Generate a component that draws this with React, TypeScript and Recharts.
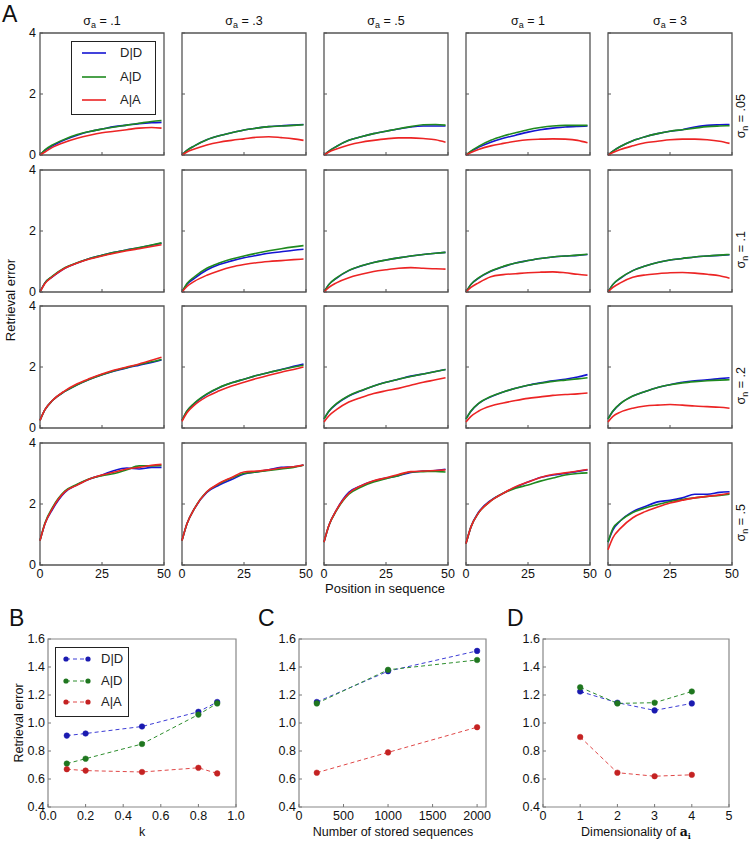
import React from 'react';
import { LineChart, Line, XAxis, YAxis, ReferenceArea, Legend } from 'recharts';

// ---------- Panel A data ----------
const positions = [0, 2, 5, 10, 15, 20, 25, 30, 35, 40, 45, 49];
const sigmaA = ['.1', '.3', '.5', '1', '3'];
const sigmaN = ['.05', '.1', '.2', '.5'];
const seriesNames = ['D|D', 'A|D', 'A|A'];
const gridColors = ['#1414d2', '#1f8a1f', '#ec2424'];
const gridXTicks = [0, 25, 50];
const gridYTicks = [0, 2, 4];

// sigma_n = .05 (one list per sigma_a column)
const dd_n05 = [
  [0, 0.15, 0.3, 0.5, 0.65, 0.77, 0.85, 0.93, 0.98, 1.03, 1.06, 1.07],
  [0, 0.15, 0.3, 0.5, 0.63, 0.73, 0.82, 0.88, 0.93, 0.96, 0.98, 1.0],
  [0, 0.13, 0.28, 0.48, 0.6, 0.7, 0.78, 0.85, 0.92, 0.95, 0.95, 0.95],
  [0, 0.12, 0.25, 0.42, 0.55, 0.65, 0.75, 0.83, 0.88, 0.92, 0.94, 0.95],
  [0, 0.13, 0.28, 0.47, 0.6, 0.7, 0.78, 0.83, 0.92, 0.97, 0.99, 1.0],
];
const ad_n05 = [
  [0, 0.17, 0.33, 0.52, 0.67, 0.77, 0.85, 0.92, 0.98, 1.04, 1.1, 1.13],
  [0, 0.15, 0.3, 0.5, 0.63, 0.73, 0.82, 0.88, 0.93, 0.95, 0.97, 0.99],
  [0, 0.13, 0.28, 0.48, 0.6, 0.7, 0.78, 0.86, 0.93, 0.99, 1.0, 0.98],
  [0, 0.13, 0.28, 0.48, 0.62, 0.73, 0.83, 0.9, 0.95, 0.97, 0.97, 0.97],
  [0, 0.13, 0.28, 0.47, 0.6, 0.7, 0.78, 0.83, 0.88, 0.93, 0.95, 0.96],
];
const aa_n05 = [
  [0, 0.1, 0.25, 0.42, 0.55, 0.65, 0.73, 0.78, 0.83, 0.88, 0.9, 0.88],
  [0, 0.1, 0.2, 0.33, 0.42, 0.48, 0.53, 0.58, 0.6, 0.57, 0.53, 0.48],
  [0, 0.1, 0.2, 0.33, 0.42, 0.48, 0.53, 0.56, 0.56, 0.54, 0.5, 0.42],
  [0, 0.08, 0.18, 0.3, 0.38, 0.45, 0.5, 0.52, 0.53, 0.52, 0.48, 0.4],
  [0, 0.08, 0.18, 0.3, 0.4, 0.45, 0.5, 0.52, 0.52, 0.5, 0.45, 0.38],
];
// sigma_n = .1
const dd_n1 = [
  [0, 0.3, 0.5, 0.78, 0.95, 1.1, 1.2, 1.3, 1.38, 1.45, 1.53, 1.6],
  [0, 0.25, 0.45, 0.72, 0.9, 1.02, 1.12, 1.2, 1.27, 1.32, 1.37, 1.4],
  [0, 0.25, 0.45, 0.7, 0.85, 0.97, 1.05, 1.12, 1.18, 1.23, 1.27, 1.3],
  [0, 0.25, 0.45, 0.68, 0.83, 0.95, 1.03, 1.1, 1.15, 1.18, 1.2, 1.23],
  [0, 0.25, 0.45, 0.7, 0.85, 0.97, 1.05, 1.1, 1.15, 1.18, 1.2, 1.22],
];
const ad_n1 = [
  [0, 0.3, 0.52, 0.8, 0.96, 1.1, 1.2, 1.3, 1.38, 1.46, 1.54, 1.61],
  [0, 0.28, 0.5, 0.78, 0.95, 1.08, 1.18, 1.27, 1.35, 1.42, 1.48, 1.52],
  [0, 0.25, 0.46, 0.71, 0.86, 0.97, 1.05, 1.12, 1.18, 1.23, 1.27, 1.3],
  [0, 0.25, 0.46, 0.69, 0.84, 0.95, 1.03, 1.1, 1.15, 1.18, 1.21, 1.24],
  [0, 0.25, 0.46, 0.7, 0.85, 0.97, 1.05, 1.1, 1.15, 1.18, 1.21, 1.23],
];
const aa_n1 = [
  [0, 0.28, 0.5, 0.78, 0.95, 1.08, 1.18, 1.27, 1.35, 1.42, 1.49, 1.55],
  [0, 0.18, 0.35, 0.55, 0.7, 0.82, 0.9, 0.96, 1.0, 1.03, 1.06, 1.08],
  [0, 0.15, 0.3, 0.47, 0.58, 0.67, 0.73, 0.78, 0.8, 0.78, 0.76, 0.75],
  [0, 0.15, 0.3, 0.5, 0.57, 0.6, 0.63, 0.65, 0.66, 0.63, 0.58, 0.55],
  [0, 0.15, 0.3, 0.48, 0.56, 0.6, 0.63, 0.64, 0.62, 0.58, 0.53, 0.45],
];
// sigma_n = .2
const dd_n2 = [
  [0.25, 0.6, 0.9, 1.2, 1.42, 1.6, 1.75, 1.87, 1.97, 2.06, 2.15, 2.23],
  [0.25, 0.55, 0.8, 1.1, 1.32, 1.48, 1.6, 1.72, 1.82, 1.92, 2.02, 2.1],
  [0.3, 0.55, 0.78, 1.05, 1.22, 1.38, 1.5, 1.6, 1.7, 1.77, 1.85, 1.92],
  [0.3, 0.55, 0.8, 1.02, 1.18, 1.3, 1.4, 1.48, 1.55, 1.6, 1.67, 1.75],
  [0.3, 0.55, 0.8, 1.05, 1.2, 1.33, 1.42, 1.5, 1.55, 1.58, 1.62, 1.65],
];
const ad_n2 = [
  [0.25, 0.6, 0.9, 1.2, 1.42, 1.6, 1.75, 1.88, 1.98, 2.08, 2.17, 2.25],
  [0.25, 0.56, 0.82, 1.12, 1.33, 1.48, 1.6, 1.72, 1.82, 1.91, 2.0, 2.06],
  [0.3, 0.56, 0.8, 1.06, 1.23, 1.38, 1.5, 1.6, 1.69, 1.77, 1.85, 1.92],
  [0.3, 0.56, 0.8, 1.03, 1.18, 1.3, 1.4, 1.47, 1.53, 1.57, 1.61, 1.65],
  [0.3, 0.56, 0.8, 1.05, 1.2, 1.33, 1.42, 1.48, 1.52, 1.55, 1.57, 1.58],
];
const aa_n2 = [
  [0.25, 0.6, 0.9, 1.22, 1.45, 1.62, 1.77, 1.9, 2.0, 2.1, 2.22, 2.32],
  [0.22, 0.5, 0.75, 1.03, 1.22, 1.38, 1.5, 1.62, 1.73, 1.83, 1.92, 2.0],
  [0.2, 0.4, 0.6, 0.85, 1.0, 1.13, 1.22, 1.3, 1.4, 1.5, 1.58, 1.65],
  [0.2, 0.38, 0.55, 0.72, 0.82, 0.9, 0.97, 1.02, 1.07, 1.1, 1.12, 1.15],
  [0.2, 0.38, 0.52, 0.65, 0.72, 0.75, 0.77, 0.75, 0.72, 0.7, 0.68, 0.65],
];
// sigma_n = .5
const dd_n5 = [
  [0.8, 1.35, 1.82, 2.38, 2.63, 2.82, 2.95, 3.1, 3.18, 3.15, 3.2, 3.2],
  [0.8, 1.35, 1.85, 2.38, 2.62, 2.8, 2.98, 3.05, 3.12, 3.2, 3.22, 3.28],
  [0.75, 1.3, 1.8, 2.38, 2.6, 2.75, 2.85, 2.93, 3.03, 3.08, 3.1, 3.14],
  [0.7, 1.25, 1.72, 2.12, 2.35, 2.55, 2.72, 2.87, 2.95, 3.0, 3.07, 3.12],
  [0.75, 1.15, 1.45, 1.75, 1.92, 2.07, 2.12, 2.2, 2.32, 2.32, 2.38, 2.4],
];
const ad_n5 = [
  [0.8, 1.38, 1.88, 2.42, 2.65, 2.83, 2.93, 3.0, 3.12, 3.25, 3.25, 3.26],
  [0.8, 1.35, 1.85, 2.4, 2.66, 2.85, 3.0, 3.05, 3.1, 3.15, 3.2, 3.27],
  [0.75, 1.3, 1.78, 2.32, 2.56, 2.72, 2.83, 2.93, 3.05, 3.06, 3.07, 3.05],
  [0.7, 1.25, 1.7, 2.1, 2.35, 2.52, 2.62, 2.75, 2.85, 2.95, 3.0, 3.02],
  [0.75, 1.2, 1.45, 1.72, 1.87, 1.98, 2.08, 2.15, 2.2, 2.25, 2.28, 2.32],
];
const aa_n5 = [
  [0.8, 1.35, 1.85, 2.4, 2.62, 2.82, 2.95, 3.05, 3.15, 3.2, 3.27, 3.3],
  [0.8, 1.35, 1.85, 2.4, 2.68, 2.87, 3.05, 3.08, 3.12, 3.18, 3.22, 3.28],
  [0.75, 1.3, 1.8, 2.35, 2.6, 2.76, 2.86, 2.97, 3.06, 3.08, 3.1, 3.12],
  [0.7, 1.25, 1.7, 2.1, 2.35, 2.57, 2.72, 2.87, 2.97, 3.02, 3.08, 3.13],
  [0.5, 0.9, 1.2, 1.55, 1.75, 1.9, 2.03, 2.12, 2.2, 2.25, 2.3, 2.35],
];

// ---------- Panel B/C/D data ----------
const kValues = [0.1, 0.2, 0.5, 0.8, 0.9];
const kDD = [0.91, 0.925, 0.975, 1.08, 1.15];
const kAD = [0.71, 0.745, 0.85, 1.06, 1.14];
const kAA = [0.67, 0.66, 0.65, 0.68, 0.64];

const nStored = [200, 1000, 2000];
const nDD = [1.15, 1.37, 1.515];
const nAD = [1.14, 1.38, 1.45];
const nAA = [0.645, 0.79, 0.97];

const dims = [1, 2, 3, 4];
const dimDD = [1.225, 1.145, 1.09, 1.14];
const dimAD = [1.255, 1.14, 1.145, 1.225];
const dimAA = [0.9, 0.645, 0.62, 0.63];

const bottomYTicks = [0.4, 0.6, 0.8, 1.0, 1.2, 1.4, 1.6];
const kTicks = [0, 0.2, 0.4, 0.6, 0.8, 1.0];
const nTicks = [0, 500, 1000, 1500, 2000];
const dimTicks = [0, 1, 2, 3, 4, 5];
const lineColors = ['#3c3cd6', '#2e8e2e', '#e04848'];
const dotColors = ['#1a1ab0', '#1f761f', '#c42222'];

// ---------- layout ----------
const FONT = '"Liberation Sans", Arial, sans-serif';
const colLefts = [40, 182, 324, 466, 608];
const rowTops = [33, 170, 306, 443];
const PW = 124;
const PH = 122;
const GY = 30;
const GX = 20;
const MT = 8;
const MR = 12;

const gridDD = [dd_n05, dd_n1, dd_n2, dd_n5];
const gridAD = [ad_n05, ad_n1, ad_n2, ad_n5];
const gridAA = [aa_n05, aa_n1, aa_n2, aa_n5];

const blank = () => '';

function GridLegend() {
  return (
    <div style={{ position: 'relative', width: 85, height: 74, border: '1px solid #222', background: '#fff', boxSizing: 'border-box', fontFamily: FONT, fontSize: 13 }}>
      {seriesNames.map((n, i) => (
        <div key={n} style={{ position: 'absolute', left: 0, top: 11 + i * 23.5 - 8, height: 16, width: 85 }}>
          <svg width={30} height={16} style={{ position: 'absolute', left: 10, top: 0 }}>
            <line x1={0} x2={24} y1={8} y2={8} stroke={gridColors[i]} strokeWidth={1.6} />
          </svg>
          <span style={{ position: 'absolute', left: 48, top: 0, lineHeight: '16px', color: '#222' }}>{n}</span>
        </div>
      ))}
    </div>
  );
}

function BottomLegend() {
  return (
    <div style={{ position: 'relative', width: 74, height: 70, border: '1px solid #222', background: '#fff', boxSizing: 'border-box', fontFamily: FONT, fontSize: 13 }}>
      {seriesNames.map((n, i) => (
        <div key={n} style={{ position: 'absolute', left: 0, top: 11 + i * 21.5 - 8, height: 16, width: 74 }}>
          <svg width={34} height={16} style={{ position: 'absolute', left: 6, top: 0 }}>
            <line x1={4} x2={26} y1={8} y2={8} stroke={lineColors[i]} strokeWidth={1} strokeDasharray="4 3" />
            <circle cx={4} cy={8} r={2.6} fill={dotColors[i]} />
            <circle cx={26} cy={8} r={2.6} fill={dotColors[i]} />
          </svg>
          <span style={{ position: 'absolute', left: 45, top: 0, lineHeight: '16px', color: '#222' }}>{n}</span>
        </div>
      ))}
    </div>
  );
}

function GridPanel({ r, c }: { r: number; c: number }) {
  const data = positions.map((p, i) => ({
    pos: p,
    DD: gridDD[r][c][i],
    AD: gridAD[r][c][i],
    AA: gridAA[r][c][i],
  }));
  const showY = c === 0;
  const showX = r === 3;
  const tickStyle = { fontSize: 12.5, fill: '#111', fontFamily: FONT };
  return (
    <div style={{ position: 'absolute', left: colLefts[c] - GY, top: rowTops[r] - MT }}>
      <LineChart width={GY + PW + MR} height={MT + PH + GX} data={data} margin={{ top: MT, right: MR, left: 0, bottom: 0 }}>
        <XAxis dataKey="pos" type="number" domain={[0, 50]} ticks={gridXTicks} height={GX} axisLine={false}
          tickSize={-3} tickMargin={7} stroke="#555" tick={tickStyle} tickFormatter={showX ? undefined : blank} interval={0} />
        <XAxis xAxisId="top" orientation="top" type="number" domain={[0, 50]} ticks={gridXTicks} height={0} axisLine={false}
          tickSize={-3} stroke="#555" tick={{ fontSize: 0 }} tickFormatter={blank} />
        <YAxis type="number" domain={[0, 4]} ticks={gridYTicks} width={GY} axisLine={false}
          tickSize={-3} tickMargin={7} stroke="#555" tick={tickStyle} tickFormatter={showY ? undefined : blank} interval={0} />
        <YAxis yAxisId="right" orientation="right" type="number" domain={[0, 4]} ticks={gridYTicks} width={0} axisLine={false}
          tickSize={-3} stroke="#555" tick={{ fontSize: 0 }} tickFormatter={blank} />
        <Line dataKey="DD" name="D|D" stroke={gridColors[0]} strokeWidth={1.6} dot={false} type="monotone" isAnimationActive={false} />
        <Line dataKey="AD" name="A|D" stroke={gridColors[1]} strokeWidth={1.6} dot={false} type="monotone" isAnimationActive={false} />
        <Line dataKey="AA" name="A|A" stroke={gridColors[2]} strokeWidth={1.6} dot={false} type="monotone" isAnimationActive={false} />
        <ReferenceArea x1={0} x2={50} y1={0} y2={4} fill="none" stroke="#555" strokeWidth={1.3} />
        {r === 0 && c === 0 && (
          <Legend layout="vertical" align="center" verticalAlign="middle"
            wrapperStyle={{ left: 61, top: 41 - (33 - MT), width: 85, height: 74 }} content={() => <GridLegend />} />
        )}
      </LineChart>
    </div>
  );
}

function BottomPanel({ left, top, width, xs, dd, ad, aa, xDomain, xTicks, fmt, legend }: any) {
  const data = xs.map((x: number, i: number) => ({ x, DD: dd[i], AD: ad[i], AA: aa[i] }));
  const YW = 40;
  const PHB = 168;
  const XH = 22;
  const tickStyle = { fontSize: 12.5, fill: '#111', fontFamily: FONT };
  const keys = ['DD', 'AD', 'AA'];
  return (
    <div style={{ position: 'absolute', left: left - YW, top: top - MT }}>
      <LineChart width={YW + width + MR} height={MT + PHB + XH} data={data} margin={{ top: MT, right: MR, left: 0, bottom: 0 }}>
        <XAxis dataKey="x" type="number" domain={xDomain} ticks={xTicks} height={XH} axisLine={false}
          tickSize={-3} tickMargin={7} stroke="#777" tick={tickStyle} tickFormatter={fmt} interval={0} />
        <XAxis xAxisId="top" orientation="top" type="number" domain={xDomain} ticks={xTicks} height={0} axisLine={false}
          tickSize={-3} stroke="#777" tick={{ fontSize: 0 }} tickFormatter={blank} />
        <YAxis type="number" domain={[0.4, 1.6]} ticks={bottomYTicks} width={YW} axisLine={false}
          tickSize={-3} tickMargin={6} stroke="#777" tick={tickStyle} tickFormatter={(v: number) => v.toFixed(1)} interval={0} />
        <YAxis yAxisId="right" orientation="right" type="number" domain={[0.4, 1.6]} ticks={bottomYTicks} width={0} axisLine={false}
          tickSize={-3} stroke="#777" tick={{ fontSize: 0 }} tickFormatter={blank} />
        {keys.map((k, i) => (
          <Line key={k} dataKey={k} name={seriesNames[i]} stroke={lineColors[i]} strokeWidth={1} strokeDasharray="4 3"
            type="linear" isAnimationActive={false}
            dot={{ r: 2.8, fill: dotColors[i], stroke: dotColors[i], strokeWidth: 0.5, strokeDasharray: '' }} />
        ))}
        <ReferenceArea x1={xDomain[0]} x2={xDomain[1]} y1={0.4} y2={1.6} fill="none" stroke="#888" strokeWidth={1.2} />
        {legend && (
          <Legend layout="vertical" align="center" verticalAlign="middle"
            wrapperStyle={{ left: 47, top: 647 - (top - MT), width: 74, height: 70 }} content={() => <BottomLegend />} />
        )}
      </LineChart>
    </div>
  );
}

function Sigma({ x, y, sub, value, rotate }: any) {
  return (
    <text x={x} y={y} textAnchor={rotate ? 'end' : 'middle'} transform={rotate ? `rotate(-90, ${x}, ${y})` : undefined}
      fontSize={12.5} fontFamily={FONT} fill="#111">
      σ<tspan dy={3} fontSize={9}>{sub}</tspan><tspan dy={-3}>{` = ${value}`}</tspan>
    </text>
  );
}

export default function App() {
  return (
    <div style={{ position: 'absolute', left: 0, top: 0, width: 750, height: 843, background: '#fff', overflow: 'hidden' }}>
      {rowTops.map((_, r) => colLefts.map((__, c) => <GridPanel key={`${r}-${c}`} r={r} c={c} />))}
      <BottomPanel left={48} top={639} width={188} xs={kValues} dd={kDD} ad={kAD} aa={kAA}
        xDomain={[0, 1]} xTicks={kTicks} fmt={(v: number) => v.toFixed(1)} legend />
      <BottomPanel left={299} top={639} width={187} xs={nStored} dd={nDD} ad={nAD} aa={nAA}
        xDomain={[0, 2100]} xTicks={nTicks} fmt={(v: number) => String(v)} />
      <BottomPanel left={543} top={639} width={186} xs={dims} dd={dimDD} ad={dimAD} aa={dimAA}
        xDomain={[0, 5]} xTicks={dimTicks} fmt={(v: number) => String(v)} />
      <svg width={750} height={843} style={{ position: 'absolute', left: 0, top: 0, pointerEvents: 'none' }}>
        <text x={2} y={22} fontSize={23} fontFamily={FONT} fill="#111">A</text>
        <text x={9} y={626} fontSize={23} fontFamily={FONT} fill="#111">B</text>
        <text x={258} y={626} fontSize={23} fontFamily={FONT} fill="#111">C</text>
        <text x={507} y={626} fontSize={23} fontFamily={FONT} fill="#111">D</text>
        {sigmaA.map((s, c) => <Sigma key={s} x={colLefts[c] + PW / 2} y={25} sub="a" value={s} />)}
        {sigmaN.map((s, r) => <Sigma key={s} x={745} y={rowTops[r] + 61} sub="n" value={s} rotate />)}
        <text x={15} y={300} textAnchor="middle" transform="rotate(-90, 15, 300)" fontSize={13} fontFamily={FONT} fill="#111">Retrieval error</text>
        <text x={385} y={593} textAnchor="middle" fontSize={13} fontFamily={FONT} fill="#111">Position in sequence</text>
        <text x={23} y={723} textAnchor="middle" transform="rotate(-90, 23, 723)" fontSize={12.5} fontFamily={FONT} fill="#111">Retrieval error</text>
        <text x={142} y={836} textAnchor="middle" fontSize={12.5} fontFamily={FONT} fill="#111">k</text>
        <text x={393} y={836} textAnchor="middle" fontSize={12.5} fontFamily={FONT} fill="#111">Number of stored sequences</text>
        <text x={636} y={836} textAnchor="middle" fontSize={12.5} fontFamily={FONT} fill="#111">
          Dimensionality of <tspan fontFamily="'DejaVu Serif', serif" fontWeight="bold">a</tspan><tspan dy={3} fontSize={8} fontFamily="'DejaVu Serif', serif" fontWeight="bold">i</tspan>
        </text>
      </svg>
    </div>
  );
}
